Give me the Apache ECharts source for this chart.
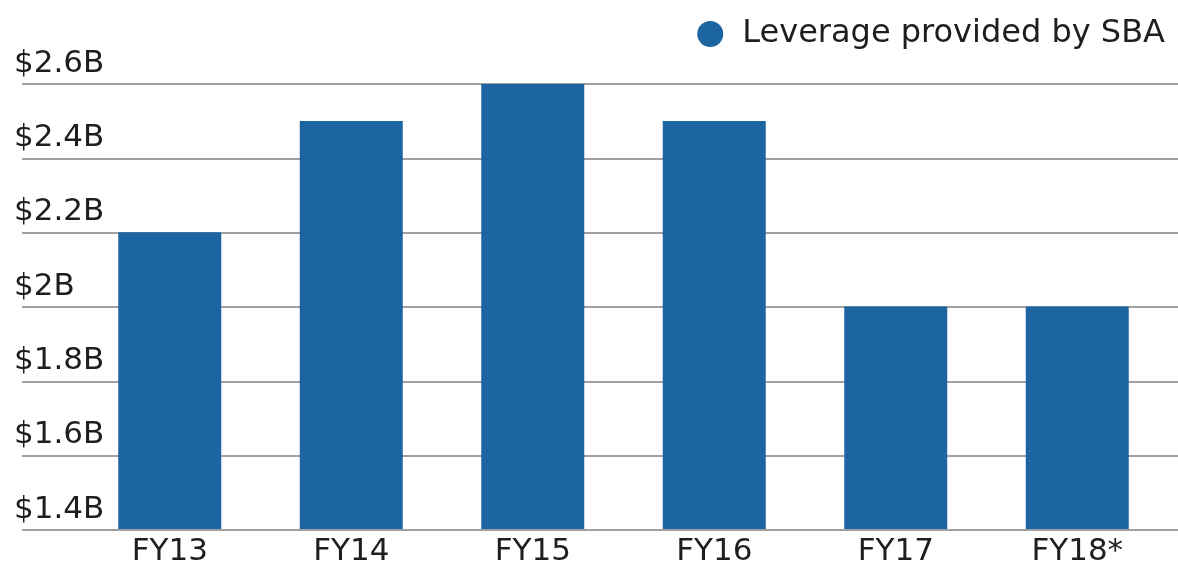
<!DOCTYPE html>
<html>
<head>
<meta charset="utf-8">
<script src="https://cdn.jsdelivr.net/npm/echarts@6/dist/echarts.min.js"></script>
<style>html,body{margin:0;padding:0;background:#fff}#c{width:1178px;height:567px}</style>
</head>
<body>
<div id="c"></div>
<script>
const categories = ['FY13', 'FY14', 'FY15', 'FY16', 'FY17', 'FY18*'];
const leverage = [2.2, 2.5, 2.6, 2.5, 2.0, 2.0];
const seriesName = 'Leverage provided by SBA';
const yTicks = [1.4, 1.6, 1.8, 2.0, 2.2, 2.4, 2.6];

const FONT = 'DejaVu Sans';
const chart = echarts.init(document.getElementById('c'), null, {renderer: 'canvas'});
chart.setOption({
  animation: false,
  legend: {
    data: [{name: seriesName, icon: 'circle'}],
    right: 8, top: 13,
    itemWidth: 26, itemHeight: 26, itemGap: 10,
    textStyle: {fontFamily: FONT, fontSize: 32, color: '#1e1e1e', padding: [0,0,0,14]}
  },
  grid: [
    {left: 22, right: 0, top: 84, bottom: 37},
    {left: 79, right: 10, top: 84, bottom: 37}
  ],
  xAxis: [
    {gridIndex: 0, type: 'category', data: categories, show: false},
    {gridIndex: 1, type: 'category', data: categories,
     axisLine: {show: false}, axisTick: {show: false},
     axisLabel: {fontFamily: FONT, fontSize: 31, color: '#1e1e1e', margin: 7}}
  ],
  yAxis: [
    {gridIndex: 0, type: 'value', min: yTicks[0], max: yTicks[yTicks.length-1], interval: 0.2,
     axisLine: {show: false}, axisTick: {show: false},
     splitLine: {lineStyle: {color: '#a0a0a0', width: 2}},
     axisLabel: {inside: true, margin: -8, align: 'left', verticalAlign: 'bottom', padding: [0,0,5,0],
       fontFamily: FONT, fontSize: 31, color: '#1e1e1e',
       formatter: v => '$' + (Math.round(v*10)/10) + 'B'}},
    {gridIndex: 1, type: 'value', min: yTicks[0], max: yTicks[yTicks.length-1], interval: 0.2, show: false,
     splitLine: {show: false}}
  ],
  series: [{
    name: seriesName, type: 'bar', xAxisIndex: 1, yAxisIndex: 1,
    data: leverage, barWidth: 103,
    itemStyle: {color: '#1c65a0'}
  }]
});
</script>
</body>
</html>
